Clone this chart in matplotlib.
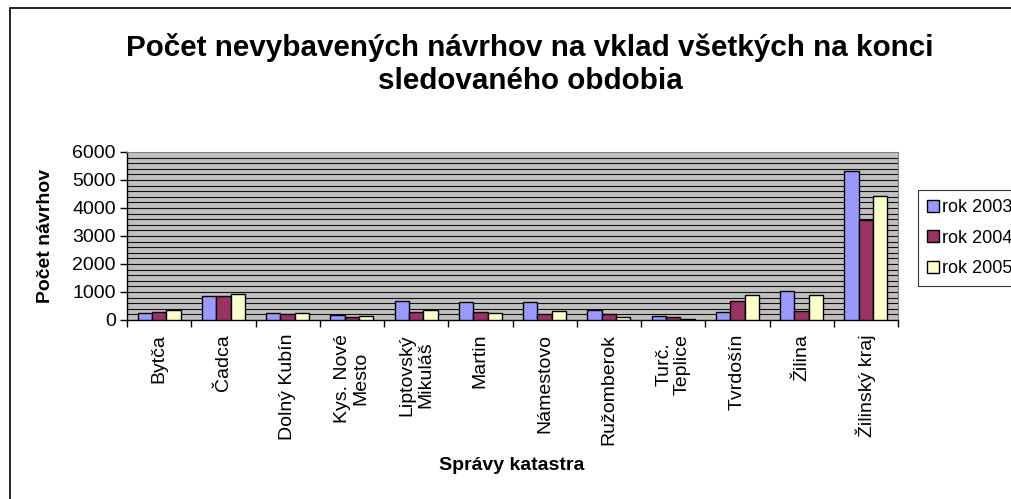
import matplotlib
matplotlib.use("Agg")
import matplotlib.pyplot as plt
import numpy as np
from matplotlib.patches import Rectangle, Patch

plt.rcParams['font.family'] = ['Liberation Sans', 'DejaVu Sans']

categories = ["Bytča", "Čadca", "Dolný Kubín", "Kys. Nové\nMesto", "Liptovský\nMikuláš",
              "Martin", "Námestovo", "Ružomberok", "Turč.\nTeplice", "Tvrdošín",
              "Žilina", "Žilinský kraj"]
series_names = ["rok 2003", "rok 2004", "rok 2005"]
rok_2003 = [260, 870, 250, 167, 680, 630, 650, 345, 130, 300, 1050, 5310]
rok_2004 = [285, 870, 225, 107, 290, 270, 200, 200, 95, 690, 330, 3580]
rok_2005 = [370, 940, 240, 143, 350, 250, 310, 107, 25, 880, 880, 4440]
colors = ["#9999FF", "#993366", "#FFFFCC"]
yticks = [0, 1000, 2000, 3000, 4000, 5000, 6000]

W, H = 1011, 499
fig = plt.figure(figsize=(W / 100, H / 100), dpi=100)
fig.patch.set_facecolor("white")

# outer frame
fig.patches.append(Rectangle((10 / W, 0 - 0.01), 1.1, 1 - 8 / H + 0.01,
                             transform=fig.transFigure, fill=False,
                             edgecolor="black", linewidth=1.2, zorder=0))

ax = fig.add_axes([127 / W, 1 - 320 / H, (898 - 127) / W, (320 - 152) / H])
ax.set_facecolor("#C0C0C0")

x = np.arange(len(categories))
bw = 0.223
for i, (vals, c, name) in enumerate(zip([rok_2003, rok_2004, rok_2005], colors, series_names)):
    ax.bar(x + (i - 1) * bw, vals, width=bw, color=c, edgecolor="black",
           linewidth=1.0, label=name, zorder=3)

ax.set_xlim(-0.5, len(categories) - 0.5)
ax.set_ylim(0, 6000)
for g in range(200, 6000, 200):
    ax.axhline(g, color="#111111", linewidth=0.8, zorder=1)

ax.set_yticks(yticks)
ax.set_yticklabels([str(v) for v in yticks], fontsize=14)
ax.tick_params(axis="y", direction="out", length=5, width=1, pad=3)

ax.set_xticks(x)
ax.set_xticklabels(categories, rotation=90, fontsize=14, ha="center", va="top",
                   multialignment="center", linespacing=1.15)
ax.tick_params(axis="x", which="major", length=0, pad=10)
ax.set_xticks(np.arange(-0.5, len(categories), 1.0), minor=True)
ax.tick_params(axis="x", which="minor", direction="out", length=5, width=1)

for s in ["top", "right"]:
    ax.spines[s].set_color("#808080")
for s in ["left", "bottom"]:
    ax.spines[s].set_color("black")
    ax.spines[s].set_linewidth(1)

fig.text(530 / W, 1 - 64 / H, "Počet nevybavených návrhov na vklad všetkých na konci\nsledovaného obdobia",
         ha="center", va="center", fontsize=21.3, fontweight="bold", linespacing=1.25)
fig.text(46 / W, 1 - 236 / H, "Počet návrhov", rotation=90, ha="center", va="center",
         fontsize=14, fontweight="bold")
fig.text(512 / W, 1 - 466 / H, "Správy katastra", ha="center", va="center",
         fontsize=14, fontweight="bold")

handles = [Patch(facecolor=c, edgecolor="black", linewidth=1) for c in colors]
leg = fig.legend(handles, series_names, loc="upper left",
                 bbox_to_anchor=(918 / W, 1 - 190 / H), fontsize=13,
                 frameon=True, fancybox=False, edgecolor="black",
                 handlelength=0.65, handleheight=0.65, handletextpad=0.2,
                 labelspacing=0.75, borderpad=0.5, borderaxespad=0)
leg._legend_box.sep = 0
leg.get_frame().set_linewidth(0.8)

fig.savefig("out.png", dpi=100)
